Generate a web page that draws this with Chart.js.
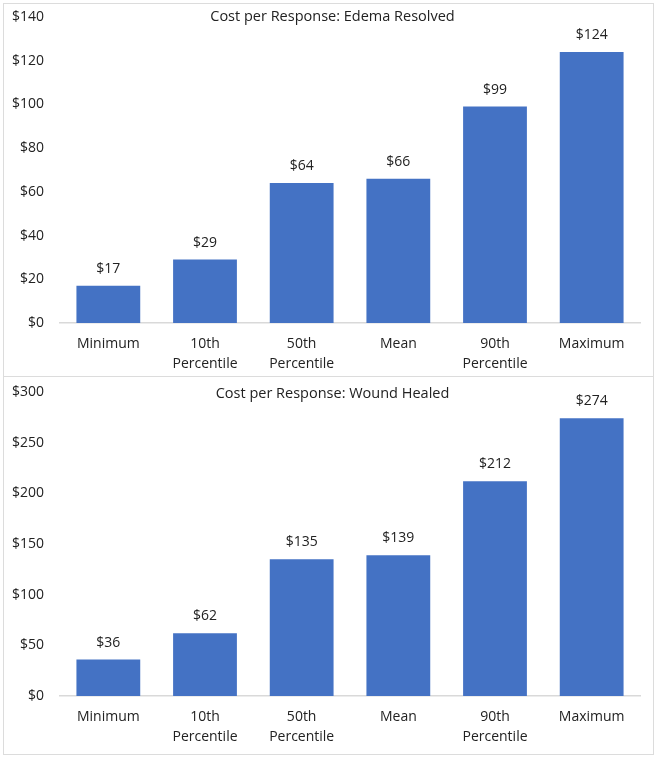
<!DOCTYPE html>
<html>
<head>
<meta charset="utf-8">
<script src="https://cdn.jsdelivr.net/npm/chart.js@4"></script>
<style>
  body { margin: 0; background: #fff; }
  .panel { position: absolute; left: 3px; width: 649px; border: 1px solid #dcdcdc; background: #fff; }
  #p1 { top: 3px; height: 372px; }
  #p2 { top: 376px; height: 377px; }
</style>
</head>
<body>
<div class="panel" id="p1"><canvas id="edema"></canvas></div>
<div class="panel" id="p2"><canvas id="wound"></canvas></div>
<script>
// Cost per response stats
const categories = [['Minimum'], ['10th', 'Percentile'], ['50th', 'Percentile'], ['Mean'], ['90th', 'Percentile'], ['Maximum']];
const edemaValues = [17, 29, 64, 66, 99, 124];
const woundValues = [36, 62, 135, 139, 212, 274];
const edemaTicks = { max: 140, step: 20 };
const woundTicks = { max: 300, step: 50 };

const FONT = '"Open Sans", sans-serif';
const TEXT = '#222';

// draws the $ value above each bar and the title inside the plot
const labelPlugin = {
  id: 'barLabels',
  afterDatasetsDraw(chart, args, opts) {
    const ctx = chart.ctx;
    ctx.save();
    ctx.fillStyle = TEXT;
    ctx.font = '14px ' + FONT;
    ctx.textAlign = 'center';
    ctx.textBaseline = 'middle';
    const meta = chart.getDatasetMeta(0);
    meta.data.forEach((bar, i) => {
      ctx.fillText('$' + chart.data.datasets[0].data[i], bar.x, bar.y - 17);
    });
    ctx.font = '14.5px ' + FONT;
    ctx.fillText(opts.title, chart.width / 2 + 4, opts.titleY);
    ctx.restore();
  }
};

function makeChart(id, values, ticks, title, titleY, padTop, xHeight) {
  return new Chart(document.getElementById(id), {
    type: 'bar',
    data: {
      labels: categories,
      datasets: [{
        data: values,
        backgroundColor: '#4472C4',
        categoryPercentage: 1,
        barPercentage: 0.66
      }]
    },
    options: {
      responsive: true,
      maintainAspectRatio: false,
      animation: false,
      layout: { padding: { top: padTop, right: 13, bottom: 0, left: 0 } },
      plugins: {
        legend: { display: false },
        tooltip: { enabled: false },
        barLabels: { title: title, titleY: titleY }
      },
      scales: {
        x: {
          grid: { display: false, drawTicks: false },
          border: { display: true, color: '#d9d9d9', width: 1.5 },
          ticks: { color: TEXT, font: { family: FONT, size: 14, lineHeight: 1.43 }, padding: 11, maxRotation: 0, autoSkip: false },
          afterFit(axis) { axis.height = xHeight; }
        },
        y: {
          min: 0,
          max: ticks.max,
          grid: { display: false, drawTicks: false },
          border: { display: false },
          ticks: {
            stepSize: ticks.step,
            color: TEXT,
            font: { family: FONT, size: 14 },
            padding: 16,
            callback: v => '$' + v
          },
          afterFit(axis) {
            axis.width = 56;
            axis.paddingTop = 0;
            axis.paddingBottom = 0;
          }
        }
      }
    },
    plugins: [labelPlugin]
  });
}

makeChart('edema', edemaValues, edemaTicks, 'Cost per Response: Edema Resolved', 13, 13, 53);
makeChart('wound', woundValues, woundTicks, 'Cost per Response: Wound Healed', 17, 15, 58);
</script>
</body>
</html>
